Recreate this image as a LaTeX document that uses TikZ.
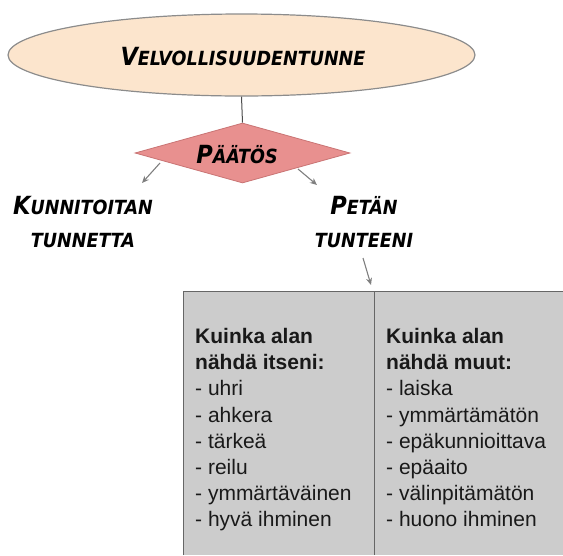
\documentclass[tikz,border=0pt]{standalone}
\usepackage{fontspec}
\setmainfont{Liberation Sans}
\newfontfamily\handfont{DejaVu Sans Condensed}
\usetikzlibrary{shapes.geometric,arrows.meta}

% small-caps style lettering: a tall initial followed by smaller capitals
\newcommand{\tallcap}[1]{{\fontsize{25}{25}\selectfont #1}}
\newcommand{\lowcap}[1]{{\fontsize{19.5}{19.5}\selectfont #1}}

\definecolor{peach}{HTML}{FCE5CD}
\definecolor{rosefill}{HTML}{E8908F}
\definecolor{roseedge}{HTML}{C97474}
\definecolor{panelgray}{HTML}{CCCCCC}
\definecolor{edgegray}{HTML}{8C8C8C}
\definecolor{arrowgray}{HTML}{7F7F7F}

\tikzset{
  titleshape/.style={ellipse, draw=edgegray, line width=1.2pt, fill=peach,
    minimum width=467pt, minimum height=82pt, inner sep=0pt},
  choiceshape/.style={diamond, draw=roseedge, line width=0.8pt, fill=rosefill,
    minimum width=215pt, minimum height=60pt, inner sep=0pt, aspect=3.58},
  handlabel/.style={font=\handfont\bfseries\itshape, align=center, inner sep=0pt},
  outcome/.style={handlabel},
  flowarrow/.style={draw=arrowgray, line width=1.1pt,
    -{Stealth[length=7pt,width=6pt]}},
  panelline/.style={draw=black!60, line width=0.9pt},
  listtext/.style={font=\fontsize{21}{26.2}\selectfont, align=left,
    inner sep=0pt, anchor=north west, text=black!90}
}

\begin{document}
\begin{tikzpicture}[x=1pt, y=-1pt]
  \useasboundingbox (0,0) rectangle (563,555);

  % top concept and the decision below it
  \node[titleshape] (duty) at (241.5,55) {};
  \node[handlabel] (dutytext) at (243,57)
    {\tallcap{V}\lowcap{ELVOLLISUUDENTUNNE}};

  \node[choiceshape] (choice) at (242.5,153) {};
  \node[handlabel] (choicetext) at (237,155)
    {\tallcap{P}\lowcap{ÄÄTÖS}};

  \draw[draw=black!70, line width=1pt] (duty.south) -- (choice.north);

  % the two outcomes
  \node[outcome] (honour) at (83,222)
    {\tallcap{K}\lowcap{UNNITOITAN}\\[17pt]\lowcap{TUNNETTA}};
  \node[outcome] (betray) at (364,222)
    {\tallcap{P}\lowcap{ETÄN}\\[17pt]\lowcap{TUNTEENI}};

  \coordinate (lstart) at (160,163);
  \coordinate (lend) at (142,183);
  \coordinate (rstart) at (298,169);
  \coordinate (rend) at (317,185);
  \draw[flowarrow] (lstart) -- (lend);
  \draw[flowarrow] (rstart) -- (rend);

  % panel of self-image and image of others
  \fill[panelgray] (183,291) rectangle (563,555);
  \draw[panelline] (183,555) -- (183,291) -- (563,291);
  \draw[panelline] (374,291) -- (374,555);
  \coordinate (panelentry) at (371,285);
  \coordinate (betrayfoot) at (363,258);
  \draw[flowarrow] (betrayfoot) -- (panelentry);

  \node[listtext] (selfview) at (195,328) {%
    \textbf{Kuinka alan}\\
    \textbf{nähdä itseni:}\\
    - uhri\\
    - ahkera\\
    - tärkeä\\
    - reilu\\
    - ymmärtäväinen\\
    - hyvä ihminen};
  \node[listtext] (otherview) at (386,328) {%
    \textbf{Kuinka alan}\\
    \textbf{nähdä muut:}\\
    - laiska\\
    - ymmärtämätön\\
    - epäkunnioittava\\
    - epäaito\\
    - välinpitämätön\\
    - huono ihminen};
\end{tikzpicture}
\end{document}
